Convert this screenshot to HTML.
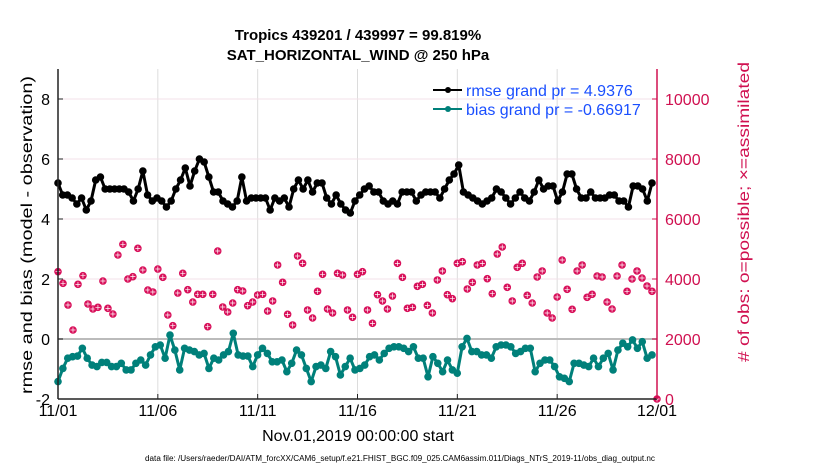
<!DOCTYPE html>
<html><head><meta charset="utf-8"><style>
body{margin:0;background:#fff;}
svg{display:block;font-family:"Liberation Sans",Arial,sans-serif;}
</style></head><body>
<svg id="chart" width="830" height="470">
<text x="358" y="40" text-anchor="middle" font-size="15" font-weight="bold">Tropics 439201 / 439997 = 99.819%</text>
<text x="358" y="60" text-anchor="middle" font-size="15" font-weight="bold">SAT_HORIZONTAL_WIND @ 250 hPa</text>
<g id="grid"></g><g id="marks"></g><g id="axes"></g>
<text transform="translate(32,235) rotate(-90)" text-anchor="middle" font-size="16" textLength="318" lengthAdjust="spacingAndGlyphs">rmse and bias (model - observation)</text>
<text transform="translate(749,212) rotate(-90)" text-anchor="middle" font-size="16" textLength="300" lengthAdjust="spacingAndGlyphs" fill="#d01050"># of obs: o=possible; ×=assimilated</text>
<text x="358" y="441" text-anchor="middle" font-size="16">Nov.01,2019 00:00:00 start</text>
<text x="400" y="461" text-anchor="middle" font-size="8" textLength="510" lengthAdjust="spacingAndGlyphs">data file: /Users/raeder/DAI/ATM_forcXX/CAM6_setup/f.e21.FHIST_BGC.f09_025.CAM6assim.011/Diags_NTrS_2019-11/obs_diag_output.nc</text>
<g>
<line x1="433" y1="90" x2="462" y2="90" stroke="#000" stroke-width="2"/><circle cx="448" cy="90" r="3" fill="#000"/>
<text x="466" y="96" font-size="16" fill="#1a4fff">rmse grand pr = 4.9376</text>
<line x1="433" y1="109" x2="462" y2="109" stroke="#00807a" stroke-width="2"/><circle cx="448" cy="109" r="3" fill="#00807a"/>
<text x="466" y="115" font-size="16" fill="#1a4fff">bias grand pr = -0.66917</text>
</g>
</svg>
<script>
const rmse=[5.2,4.8,4.8,4.7,4.5,4.7,4.3,4.6,5.3,5.4,5.0,5.0,5.0,5.0,5.0,4.9,4.6,5.0,5.6,4.8,4.6,4.7,4.6,4.4,4.6,5.0,5.3,5.7,5.1,5.6,6.0,5.9,5.4,4.9,4.9,4.6,4.5,4.4,4.6,5.4,4.6,4.7,4.7,4.7,4.7,4.3,4.7,4.6,4.7,4.4,5.0,5.3,5.0,5.3,4.9,5.2,5.2,4.7,4.5,4.8,4.5,4.3,4.2,4.6,4.8,5.0,5.1,4.9,4.9,4.6,4.5,4.6,4.5,4.9,4.9,4.9,4.6,4.8,4.9,4.9,4.9,4.7,5.0,5.3,5.5,5.8,4.9,4.8,4.7,4.6,4.5,4.6,4.7,5.0,4.9,4.7,4.5,4.7,4.9,4.7,4.6,4.9,5.3,5.0,5.1,5.1,4.6,4.9,5.5,5.5,5.0,4.7,4.7,4.9,4.7,4.7,4.7,4.8,4.8,4.6,4.6,4.4,5.1,5.1,5.0,4.6,5.2];
const bias=[-1.42,-0.98,-0.64,-0.59,-0.57,-0.31,-0.64,-0.87,-0.92,-0.78,-0.78,-0.92,-0.92,-0.81,-1.03,-1.03,-0.81,-0.70,-0.87,-0.53,-0.26,-0.2,-0.64,0.13,-0.37,-1.03,-0.31,-0.37,-0.42,-0.53,-0.48,-0.98,-0.64,-0.7,-0.53,-0.42,0.19,-0.53,-0.57,-0.57,-0.92,-0.53,-0.31,-0.48,-0.76,-0.76,-0.7,-1.09,-0.81,-0.37,-0.53,-0.98,-1.42,-0.92,-0.87,-0.98,-0.42,-0.59,-1.2,-0.92,
-0.64,-1.03,-0.98,-0.87,-0.59,-0.53,-0.7,-0.48,-0.31,-0.26,-0.26,-0.31,-0.42,-0.26,-0.64,-0.64,-1.26,-0.59,-0.81,-1.09,-0.7,-1.03,-1.14,-0.26,0.02,-0.42,-0.42,-0.53,-0.53,-0.64,-0.26,-0.2,-0.2,-0.26,-0.48,-0.42,-0.31,-0.31,-1.09,-0.81,-0.7,-0.7,-0.92,-1.26,-1.31,-1.42,-0.81,-0.81,-0.87,-0.92,-0.64,-0.92,-0.64,-0.48,-1.03,-0.37,-0.14,-0.26,-0.03,-0.31,-0.09,-0.64,-0.53];
const nobs=[4244,3856,3133,2300,3822,4111,3167,3000,3056,3933,3022,2833,4800,5156,4000,4078,5022,4300,3633,3567,4333,4056,2800,2444,3533,4189,3644,3233,3489,3489,2411,3489,4933,3067,2900,3200,3644,3600,3111,3233,3467,3489,2933,3267,4467,3889,2822,2467,4767,4522,2967,2700,3589,4156,3000,2867,4189,4133,2967,2722,4156,
4244,2967,2522,3478,3267,3000,3433,4522,4056,3022,3056,3756,3822,3122,2867,3967,4267,3478,3344,4522,4578,3667,3889,4467,4522,4011,3511,4833,5067,3722,3267,4389,4522,3456,3200,4067,4267,2867,2700,3400,4633,3656,2989,4267,4467,3389,3489,4100,4067,3233,3000,4100,4467,3589,4000,4267,4033,3767,3589,0];
const dateTicks=["11/01","11/06","11/11","11/16","11/21","11/26","12/01"];
const leftTicks=[-2,0,2,4,6,8];
const rightTicks=[0,2000,4000,6000,8000,10000];

const X0=58,X1=657,Y0=399,Y1=69;
const xs=d=>X0+(d/30)*(X1-X0);
const yL=v=>Y0-(v+2)/11*(Y0-Y1);
const yR=v=>Y0-v/11000*(Y0-Y1);
const NS='http://www.w3.org/2000/svg';
function mk(tag,attrs,parent){const e=document.createElementNS(NS,tag);for(const k in attrs)e.setAttribute(k,attrs[k]);parent.appendChild(e);return e;}
const grid=document.getElementById('grid'),marks=document.getElementById('marks'),axes=document.getElementById('axes');

dateTicks.forEach((t,i)=>{const x=xs(i*5);
 if(i>0&&i<6){const g=mk('line',{x1:x,y1:Y1,x2:x,y2:Y0,stroke:'#dcdcdc','stroke-width':1},grid);
 
 }
 mk('line',{x1:x,y1:Y0,x2:x,y2:Y0-5,stroke:'#222'},axes);
 const tx=mk('text',{x:x,y:Y0+17,'text-anchor':'middle','font-size':16},axes);tx.textContent=t;
 
 
});
rightTicks.forEach(v=>{const y=yR(v);
 if(v>0){const g=mk('line',{x1:X0,y1:y,x2:X1,y2:y,stroke:'#f3e0e8','stroke-width':1},grid);
 
 }
 mk('line',{x1:X1,y1:y,x2:X1-5,y2:y,stroke:'#d01050'},axes);
 const tx=mk('text',{x:X1+8,y:y+6,'font-size':16,fill:'#d01050'},axes);tx.textContent=v;
 
 
});
leftTicks.forEach(v=>{const y=yL(v);
 mk('line',{x1:X0,y1:y,x2:X0+5,y2:y,stroke:'#222'},axes);
 const tx=mk('text',{x:X0-8,y:y+6,'text-anchor':'end','font-size':16},axes);tx.textContent=v;
 
 
});
const z=mk('line',{x1:X0,y1:yL(0),x2:X1,y2:yL(0),stroke:'#bbb','stroke-width':2},grid);



function series(arr,col,name,span){
 const n=arr.length,pts=arr.map((v,i)=>[xs(i*span/(n-1)),yL(v)]);
 const pl=mk('polyline',{points:pts.map(p=>p.join(',')).join(' '),fill:'none',stroke:col,'stroke-width':3,'stroke-linejoin':'round'},marks);
 
 
 pts.forEach(p=>{const c=mk('circle',{cx:p[0],cy:p[1],r:3.8,fill:col},marks);
  
  });
}
nobs.forEach((v,i)=>{const x=xs(i*0.25),y=yR(v);
 const c=mk('circle',{cx:x,cy:y,r:3.8,fill:'#d8105a'},marks);
 
 
 mk('path',{d:`M${x-2.5},${y}H${x+2.5}M${x},${y-2.5}V${y+2.5}`,stroke:'#fff','stroke-width':0.7},marks);
});
series(rmse,'#000','rmse',29.75);
series(bias,'#00807a','bias',29.75);

mk('line',{x1:X0,y1:Y1,x2:X0,y2:Y0,stroke:'#222','stroke-width':1.5},axes);
mk('line',{x1:X0,y1:Y0,x2:X1,y2:Y0,stroke:'#222','stroke-width':1.5},axes);
mk('line',{x1:X1,y1:Y1,x2:X1,y2:Y0,stroke:'#d01050','stroke-width':1.5},axes);
</script>
</body></html>
